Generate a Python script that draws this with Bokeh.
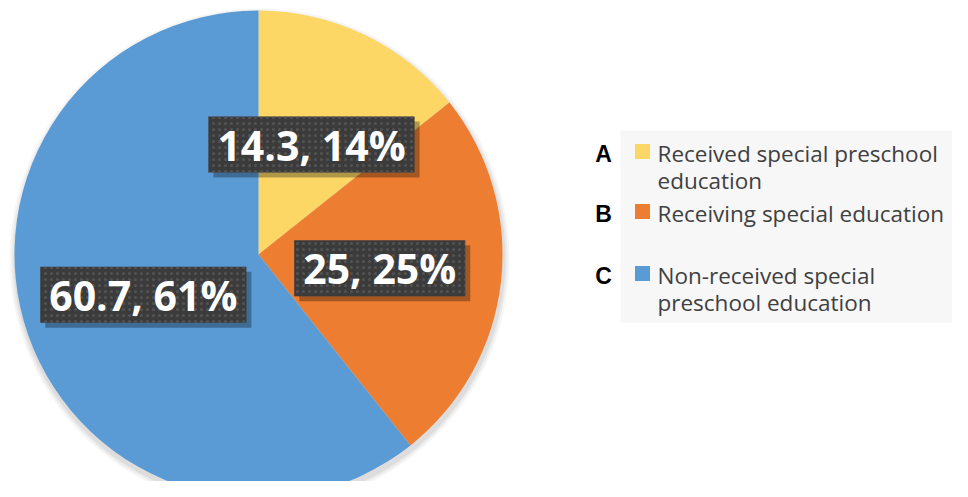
import numpy as np
from bokeh.plotting import figure
from bokeh.models import ColumnDataSource, Range1d
from bokeh.core.properties import value
from bokeh.embed import file_html
from bokeh.resources import INLINE

# ---- data ----
letters = ["A", "B", "C"]
categories = ["Received special preschool\neducation",
              "Receiving special education",
              "Non-received special\npreschool education"]
values = [14.3, 25, 60.7]
colors = ["#FDD766", "#ED7D31", "#5B9BD5"]

# ---- layout ----
W, H = 952, 481
cx, cy, R = 258, 227, 244

vals = np.array(values, dtype=float)
frac = vals / vals.sum()
cum = np.cumsum(frac)
prev = np.concatenate([[0.0], cum[:-1]])
start = np.pi / 2 - 2 * np.pi * prev
end = np.pi / 2 - 2 * np.pi * cum
mid = (start + end) / 2
lx = cx + 0.5 * R * np.cos(mid)
ly = cy + 0.5 * R * np.sin(mid)
labels = [f"{v:g}, {round(f * 100)}%" for v, f in zip(values, frac)]

p = figure(width=W, height=H, output_backend="svg", toolbar_location=None,
           x_range=Range1d(0, W), y_range=Range1d(0, H), min_border=0)
p.axis.visible = False
p.grid.visible = False
p.outline_line_color = None
p.background_fill_color = "white"

# soft pie shadow
for dr, a in [(6, 0.035), (4, 0.045), (2, 0.06)]:
    p.circle(x=[cx + 1], y=[cy - 4], radius=R + dr, fill_color="#000000",
             fill_alpha=a, line_color=None)

src = ColumnDataSource(dict(start=start, end=end, color=colors,
                            lx=lx, ly=ly, lab=labels,
                            sx=lx + 5, sy=ly - 5))
p.wedge(x=cx, y=cy, radius=R, start_angle="start", end_angle="end",
        direction="clock", fill_color="color", line_color=None, source=src)

pad = dict(left=9, right=9, top=0, bottom=0)
common = dict(text="lab", source=src, text_font=value("Open Sans"),
              text_font_style="bold", text_font_size="41px",
              text_align="center", text_baseline="middle", padding=pad)
# label shadow
p.text(x="sx", y="sy", text_alpha=0, background_fill_color="#000000",
       background_fill_alpha=0.3, **common)
# label box
p.text(x="lx", y="ly", text_color="white",
       background_fill_color="#3b3b3b",
       background_hatch_pattern="dot", background_hatch_color="#535353",
       background_hatch_scale=6, background_hatch_weight=1.1, **common)

# ---- legend ----
p.quad(left=[620], right=[W], bottom=[159], top=[351],
       fill_color="#f7f7f7", line_color=None)
row_y = [328, 268, 206]
line_h = 27
p.text(x=[603] * 3, y=row_y, text=letters, text_font=value("Liberation Sans"),
       text_font_style="bold", text_font_size="23px", text_color="black",
       text_align="center", text_baseline="middle")
p.scatter(x=[642] * 3, y=[y + 2 for y in row_y], marker="square", size=15,
          fill_color=colors, line_color=None)
tx, ty, tt = [], [], []
for y0, cat in zip(row_y, categories):
    for i, line in enumerate(cat.split("\n")):
        tx.append(657)
        ty.append(y0 - i * line_h)
        tt.append(line)
p.text(x=tx, y=ty, text=tt, text_font=value("Open Sans"),
       text_font_size="22.5px", text_color="#404040",
       text_align="left", text_baseline="middle")

open("out.html", "w").write(file_html(p, INLINE))
